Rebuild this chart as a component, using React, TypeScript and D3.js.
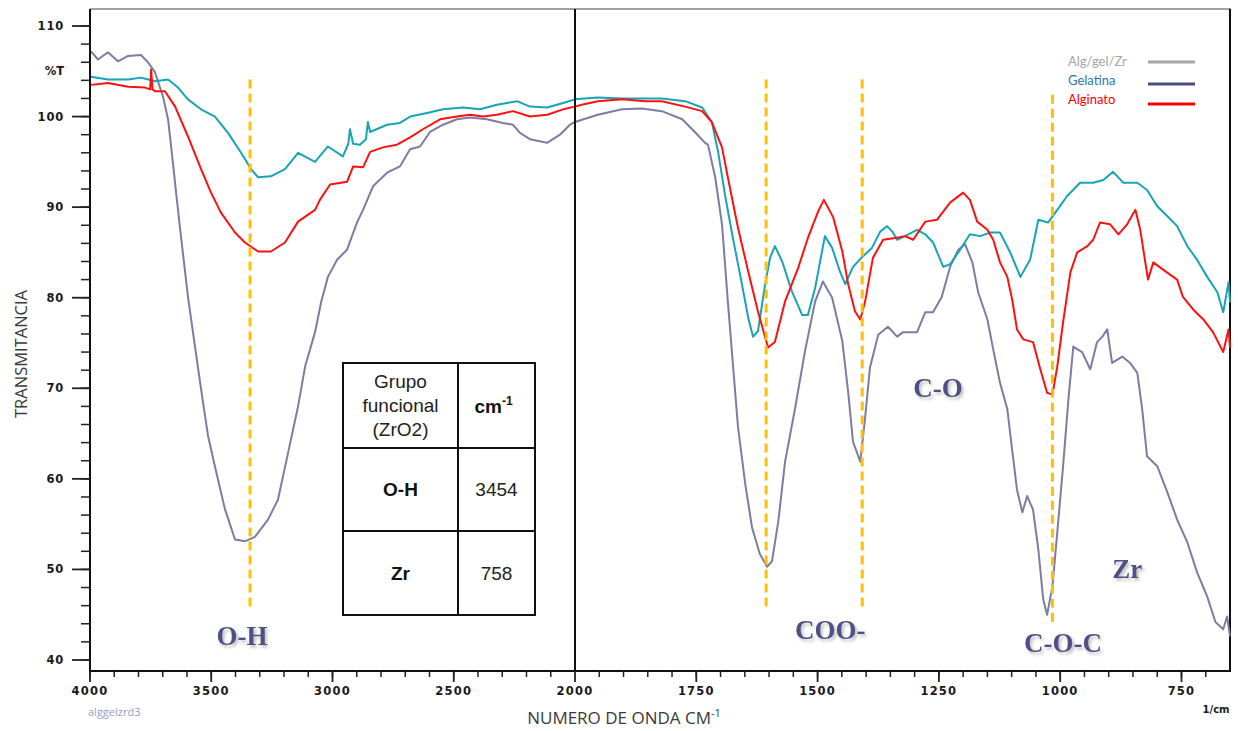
import React from "react";
import * as d3 from "d3";

// ---------- DATA ----------
// Alg/gel/Zr (purple-grey curve): [wavenumber cm-1, %T]
const algGelZr: [number, number][] = [
  [3996,107.2],[3967,106.3],[3926,107.1],[3885,106.1],[3843,106.7],[3790,106.8],[3761,106.0],[3732,104.9],[3699,102.2],[3678,99.7],[3658,94.9],[3645,91.6],[3625,86.8],[3596,80.1],[3567,74.6],[3542,69.9],[3513,64.7],[3485,61.4],[3443,56.6],[3402,53.3],[3361,53.1],[3320,53.6],[3266,55.5],[3225,57.7],[3183,62.9],[3142,68.0],[3113,72.4],[3072,76.2],[3047,79.5],[3019,82.3],[2981,84.2],[2940,85.3],[2899,88.3],[2874,89.7],[2833,92.3],[2775,93.8],[2722,94.5],[2680,96.4],[2639,96.7],[2598,98.3],[2544,99.1],[2487,99.7],[2433,99.9],[2363,99.7],[2297,99.3],[2256,99.1],[2227,98.2],[2186,97.5],[2115,97.1],[2062,98.0],[2021,99.1],[2000,99.4],
  [1953,100.2],[1903,100.8],[1862,100.9],[1821,100.6],[1779,99.7],[1753,98.3],[1732,97.1],[1726,96.9],[1711,93.3],[1697,88.1],[1685,79.6],[1674,72.3],[1664,65.7],[1649,59.4],[1635,54.6],[1619,51.7],[1604,50.3],[1594,50.9],[1581,55.3],[1567,61.9],[1546,67.9],[1526,74.1],[1505,79.6],[1489,81.8],[1470,80.0],[1449,75.2],[1437,69.6],[1427,64.1],[1412,61.9],[1402,66.8],[1392,72.3],[1375,75.9],[1355,76.8],[1336,75.7],[1324,76.2],[1295,76.2],[1278,78.4],[1262,78.4],[1244,80.1],[1227,83.4],[1210,85.3],[1196,85.9],[1181,83.9],[1169,80.6],[1150,77.6],[1138,74.3],[1124,70.6],[1109,67.7],[1099,63.2],[1089,58.8],[1078,56.3],[1068,58.1],[1056,56.6],[1045,52.2],[1035,46.7],[1027,45.0],[1016,48.1],[1006,54.1],[994,61.4],[983,68.8],[973,74.6],[955,74.0],[938,72.1],[924,75.1],[913,75.7],[903,76.5],[893,72.8],[872,73.5],[856,72.8],[841,71.7],[831,67.7],[821,62.5],[800,61.4],[779,58.5],[759,55.5],[738,53.0],[718,49.7],[697,47.0],[680,44.2],[664,43.4],[656,44.8],[650,42.6],
];

// Gelatina (teal curve)
const gelatina: [number, number][] = [
  [3996,104.4],[3926,104.1],[3843,104.1],[3790,104.3],[3732,103.9],[3678,104.1],[3637,103.2],[3596,101.9],[3542,100.8],[3485,100.0],[3431,98.2],[3377,96.0],[3336,94.2],[3307,93.3],[3254,93.4],[3196,94.2],[3142,96.0],[3072,95.0],[3019,96.7],[2957,95.6],[2935,97.0],[2928,98.6],[2915,97.0],[2887,96.9],[2862,97.5],[2854,99.4],[2845,98.3],[2775,99.1],[2722,99.3],[2680,100.0],[2610,100.4],[2544,100.8],[2462,101.0],[2392,100.8],[2322,101.3],[2239,101.7],[2186,101.1],[2115,101.0],[2049,101.5],[2000,101.9],
  [1953,102.1],[1903,102.0],[1821,102.0],[1773,101.7],[1738,101.0],[1718,99.4],[1705,96.1],[1691,91.4],[1676,87.0],[1656,81.5],[1643,77.8],[1633,75.7],[1623,76.3],[1608,81.5],[1598,84.4],[1588,85.7],[1573,84.0],[1553,80.7],[1532,78.1],[1520,78.1],[1505,81.1],[1485,86.8],[1470,85.5],[1454,82.9],[1443,81.5],[1427,83.4],[1408,84.5],[1388,85.5],[1371,87.3],[1357,87.9],[1346,87.3],[1336,86.4],[1320,86.8],[1295,87.5],[1278,87.0],[1262,86.1],[1241,83.4],[1227,83.7],[1210,85.0],[1186,87.0],[1165,86.8],[1144,87.2],[1124,87.2],[1103,85.0],[1082,82.3],[1062,84.2],[1045,88.6],[1025,88.3],[1006,89.7],[986,91.2],[959,92.7],[932,92.7],[911,93.0],[891,93.9],[870,92.7],[841,92.7],[821,91.9],[800,90.1],[779,89.0],[759,87.9],[738,85.7],[718,84.2],[697,82.3],[676,80.6],[664,78.4],[653,81.7],[650,79.5],
];

// Alginato (red curve)
const alginato: [number, number][] = [
  [3996,103.5],[3926,103.7],[3843,103.3],[3773,103.2],[3752,103.0],[3748,105.2],[3742,103.0],[3732,102.8],[3691,102.8],[3649,101.1],[3596,97.8],[3542,94.2],[3501,91.6],[3460,89.4],[3402,87.2],[3361,86.1],[3307,85.1],[3254,85.1],[3196,86.1],[3142,88.4],[3072,89.7],[3052,90.8],[3010,92.5],[2940,92.8],[2915,94.5],[2874,94.4],[2845,96.1],[2792,96.6],[2734,96.9],[2680,97.7],[2627,98.6],[2557,99.7],[2487,100.0],[2433,100.2],[2379,100.0],[2322,100.2],[2256,100.6],[2186,100.0],[2115,100.2],[2049,100.8],[2000,101.1],
  [1986,101.3],[1953,101.7],[1903,101.9],[1856,101.7],[1821,101.7],[1773,101.1],[1738,100.6],[1718,99.4],[1697,96.6],[1685,93.3],[1664,87.7],[1643,82.9],[1623,78.5],[1608,75.6],[1602,74.5],[1588,75.1],[1567,79.6],[1540,83.3],[1520,86.6],[1499,89.5],[1487,90.8],[1468,88.9],[1449,85.1],[1437,81.5],[1423,78.5],[1412,77.6],[1402,79.6],[1386,84.4],[1365,86.4],[1340,86.6],[1320,86.8],[1303,86.4],[1278,88.4],[1254,88.6],[1227,90.5],[1200,91.6],[1186,90.8],[1171,88.4],[1150,87.5],[1138,86.4],[1124,83.9],[1109,82.3],[1099,79.8],[1089,76.5],[1076,75.4],[1056,75.1],[1041,72.1],[1027,69.5],[1016,69.3],[1006,72.4],[994,77.3],[979,82.8],[965,85.0],[944,85.7],[932,86.4],[918,88.3],[897,88.1],[880,87.0],[862,88.1],[845,89.7],[835,87.5],[819,82.0],[808,83.9],[788,83.1],[759,82.0],[747,80.1],[726,78.7],[705,77.6],[685,76.2],[664,74.0],[653,76.5],[650,74.5],
];

const seriesNames = ["Alg/gel/Zr", "Gelatina", "Alginato"];

// marker lines: [wavenumber, %T top, %T bottom]
const markerLines: [number, number, number][] = [
  [3340, 104.1, 45.6],
  [1606, 104.1, 45.8],
  [1408, 104.1, 45.6],
  [1016, 102.4, 43.9],
];

// band labels: [text, wavenumber, %T]
const bandLabels: [string, number, number][] = [
  ["O-H", 3373, 41.7],
  ["COO-", 1474, 42.3],
  ["C-O", 1252, 69.0],
  ["C-O-C", 994, 40.9],
  ["Zr", 862, 49.1],
];

const leftMajorTicks = [4000, 3500, 3000, 2500, 2000];
const rightMajorTicks = [1750, 1500, 1250, 1000, 750];
const yMajorTicks = [40, 50, 60, 70, 80, 90, 100, 110];

const tableHeader = ["Grupo|funcional|(ZrO2)", "cm"];
const tableRows: [string, string][] = [
  ["O-H", "3454"],
  ["Zr", "758"],
];

// ---------- CHART ----------
const W = 1238;
const H = 731;

export default function App() {
  const xL = d3.scaleLinear().domain([4000, 2000]).range([90, 575]);
  const xR = d3.scaleLinear().domain([2000, 650]).range([575, 1230]);
  const xs = (wn: number) => (wn >= 2000 ? xL(wn) : xR(wn));
  const y = d3.scaleLinear().domain([40, 110]).range([660, 26]);
  const yTop = 9;
  const yBot = 671;

  const line = d3
    .line<[number, number]>()
    .x((d) => xs(d[0]))
    .y((d) => y(d[1]));

  const leftMinor = d3.range(4000, 2000, -100);
  const rightMinor = d3.range(1950, 650, -50);
  const yMinor = d3.range(40, 112, 2);

  const tickFont = "'DejaVu Sans', sans-serif";
  const labelColor = "#4f5186";
  const titleFont = "'Open Sans', 'Liberation Sans', sans-serif";

  const series = [
    { name: seriesNames[0], data: algGelZr, color: "#7d7ca2" },
    { name: seriesNames[1], data: gelatina, color: "#17a4b4" },
    { name: seriesNames[2], data: alginato, color: "#ff1010" },
  ];

  const legend = [
    { name: seriesNames[0], text: "#a6a6a6", line: "#a6a6a6", ty: 66, ly: 62 },
    { name: seriesNames[1], text: "#2e75b6", line: "#4a4d80", ty: 85, ly: 84 },
    { name: seriesNames[2], text: "#ff0000", line: "#ff0000", ty: 104, ly: 104 },
  ];

  // table geometry
  const tx0 = 343, tx1 = 458, tx2 = 535;
  const ty0 = 363, ty1 = 448, ty2 = 531, ty3 = 615;
  const tableFont = "'Liberation Sans', Arial, sans-serif";

  return (
    <svg
      width={W}
      height={H}
      style={{ position: "absolute", left: 0, top: 0, background: "#fff" }}
    >
      <defs>
        <filter id="shadow" x="-20%" y="-20%" width="140%" height="160%">
          <feDropShadow dx="2" dy="2.5" stdDeviation="1.6" floodColor="#8a8a8a" floodOpacity="0.55" />
        </filter>
      </defs>
      <rect width={W} height={H} fill="#fff" />

      {/* frame */}
      <line x1={90} x2={1231} y1={yTop} y2={yTop} stroke="#444" strokeWidth={1} />
      <line x1={1230} x2={1230} y1={yTop} y2={yBot} stroke="#111" strokeWidth={2} />

      {/* curves */}
      {series.map((s) => (
        <path
          key={s.name}
          d={line(s.data) || ""}
          fill="none"
          stroke={s.color}
          strokeWidth={2}
          strokeLinejoin="round"
        />
      ))}

      {/* split line */}
      <line x1={575} x2={575} y1={yTop} y2={yBot} stroke="#111" strokeWidth={2} />

      {/* marker dashed lines */}
      {markerLines.map(([wn, t0, t1]) => (
        <line
          key={wn}
          x1={xs(wn)}
          x2={xs(wn)}
          y1={y(t0)}
          y2={y(t1)}
          stroke="#ffc000"
          strokeWidth={3}
          strokeDasharray="9 5"
        />
      ))}

      {/* y axis */}
      <line x1={90} x2={90} y1={yTop} y2={yBot} stroke="#111" strokeWidth={2} />
      {yMinor.map((v) => (
        <line key={"ym" + v} x1={81} x2={90} y1={y(v)} y2={y(v)} stroke="#222" strokeWidth={1.5} />
      ))}
      {yMajorTicks.map((v) => (
        <g key={"yM" + v}>
          <line x1={72} x2={90} y1={y(v)} y2={y(v)} stroke="#222" strokeWidth={1.8} />
          <text
            x={64}
            y={y(v)}
            dy="0.35em"
            textAnchor="end"
            fontFamily={tickFont}
            fontSize={11.5}
            fontWeight="bold"
            letterSpacing={0.8}
            fill="#1a1a1a"
          >
            {v}
          </text>
        </g>
      ))}
      <text x={64} y={y(105)} dy="0.35em" textAnchor="end" fontFamily={tickFont} fontSize={11.5} fontWeight="bold" fill="#1a1a1a">
        %T
      </text>

      {/* x axis */}
      <line x1={89} x2={1231} y1={yBot} y2={yBot} stroke="#111" strokeWidth={2} />
      {leftMinor.map((v) => (
        <line key={"lm" + v} x1={xL(v)} x2={xL(v)} y1={yBot} y2={yBot + 6} stroke="#222" strokeWidth={1.5} />
      ))}
      {rightMinor.map((v) => (
        <line key={"rm" + v} x1={xR(v)} x2={xR(v)} y1={yBot} y2={yBot + 6} stroke="#222" strokeWidth={1.5} />
      ))}
      {[...leftMajorTicks.map((v) => [v, xL(v)]), ...rightMajorTicks.map((v) => [v, xR(v)])].map(([v, px]) => (
        <g key={"xM" + v}>
          <line x1={px} x2={px} y1={yBot} y2={yBot + 11} stroke="#222" strokeWidth={1.8} />
          <text
            x={px}
            y={695}
            textAnchor="middle"
            fontFamily={tickFont}
            fontSize={11.5}
            fontWeight="bold"
            letterSpacing={1.2}
            fill="#1a1a1a"
          >
            {v}
          </text>
        </g>
      ))}
      <text x={1216} y={713} textAnchor="middle" fontFamily={tickFont} fontSize={10} fontWeight="bold" fill="#1a1a1a">
        1/cm
      </text>
      <text x={88} y={716} fontFamily={titleFont} fontSize={11} fill="#9a9ac4">
        alggelzrd3
      </text>

      {/* axis titles */}
      <text x={624} y={724} textAnchor="middle" fontFamily={titleFont} fontSize={17} fill="#3a3a3a">
        NUMERO DE ONDA CM
        <tspan dy={-7} fontSize={11}>-1</tspan>
      </text>
      <text
        transform={`translate(27,${354}) rotate(-90)`}
        textAnchor="middle"
        fontFamily={titleFont}
        fontSize={16.5}
        fill="#3a3a3a"
      >
        TRANSMITANCIA
      </text>

      {/* legend */}
      {legend.map((l) => (
        <g key={l.name}>
          <text x={1068} y={l.ty} fontFamily="Lato, 'Open Sans', sans-serif" fontSize={13} fill={l.text}>
            {l.name}
          </text>
          <line x1={1148} x2={1195} y1={l.ly} y2={l.ly} stroke={l.line} strokeWidth={3} />
        </g>
      ))}

      {/* band labels */}
      {bandLabels.map(([t, wn, v]) => (
        <text
          key={t}
          x={xs(wn)}
          y={y(v)}
          textAnchor="middle"
          fontFamily="'Liberation Serif', 'DejaVu Serif', serif"
          fontWeight="bold"
          fontSize={27}
          fill={labelColor}
          filter="url(#shadow)"
        >
          {t}
        </text>
      ))}

      {/* table */}
      <g fontFamily={tableFont} fill="#111">
        <rect x={tx0} y={ty0} width={tx2 - tx0} height={ty3 - ty0} fill="#fff" stroke="#111" strokeWidth={2} />
        <line x1={tx1} x2={tx1} y1={ty0} y2={ty3} stroke="#111" strokeWidth={2} />
        <line x1={tx0} x2={tx2} y1={ty1} y2={ty1} stroke="#111" strokeWidth={2} />
        <line x1={tx0} x2={tx2} y1={ty2} y2={ty2} stroke="#111" strokeWidth={2} />
        {tableHeader[0].split("|").map((s, i) => (
          <text key={s} x={(tx0 + tx1) / 2} y={388 + i * 24} textAnchor="middle" fontSize={19} fill="#222">
            {s}
          </text>
        ))}
        <text x={(tx1 + tx2) / 2 - 3} y={413} textAnchor="middle" fontSize={19} fontWeight="bold">
          {tableHeader[1]}
          <tspan dy={-8} fontSize={12}>-1</tspan>
        </text>
        {tableRows.map(([a, b], i) => {
          const cy = i === 0 ? (ty1 + ty2) / 2 : (ty2 + ty3) / 2;
          return (
            <g key={a}>
              <text x={(tx0 + tx1) / 2} y={cy} dy="0.35em" textAnchor="middle" fontSize={19} fontWeight="bold">
                {a}
              </text>
              <text x={(tx1 + tx2) / 2} y={cy} dy="0.35em" textAnchor="middle" fontSize={19} fill="#222">
                {b}
              </text>
            </g>
          );
        })}
      </g>
    </svg>
  );
}
